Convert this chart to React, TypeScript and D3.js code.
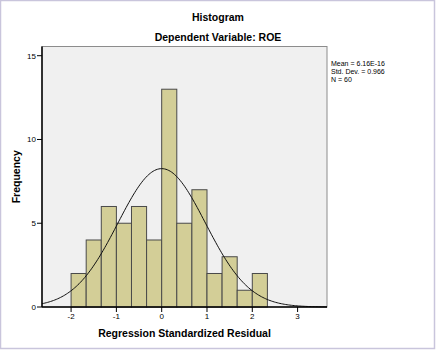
import React, { useEffect, useRef } from 'react';
import * as d3 from 'd3';

// bin lower edges (width 1/3) and counts
const binStarts = [-2, -5 / 3, -4 / 3, -1, -2 / 3, -1 / 3, 0, 1 / 3, 2 / 3, 1, 4 / 3, 5 / 3, 2];
const binCounts = [2, 4, 6, 5, 6, 4, 13, 5, 7, 2, 3, 1, 2];
const binWidth = 1 / 3;

const xTicks = [-2, -1, 0, 1, 2, 3];
const yTicks = [0, 5, 10, 15];

// stats shown in the legend box
const statMean = 6.16e-16;
const statSd = 0.966;
const statN = 60;
const legendLines = ['Mean = 6.16E-16', 'Std. Dev. = 0.966', 'N = 60'];

const App: React.FC = () => {
  const chartRef = useRef<SVGSVGElement | null>(null);

  useEffect(() => {
    renderChart();
  }, []);

  const renderChart = () => {
    const W = 438;
    const H = 351;
    const plot = { left: 42, right: 327, top: 46.5, bottom: 307 };
    const font = 'Liberation Sans, Arial, sans-serif';

    d3.select(chartRef.current).selectAll('*').remove();
    const svg = d3.select(chartRef.current)
      .attr('width', W)
      .attr('height', H)
      .style('font-family', font);

    // outer frame
    svg.append('rect')
      .attr('x', 0.5).attr('y', 0.5)
      .attr('width', W - 4).attr('height', H - 3)
      .attr('fill', '#fff')
      .attr('stroke', '#c9c5dc')
      .attr('stroke-width', 1.5);

    const x = d3.scaleLinear().domain([-2.642, 3.649]).range([plot.left, plot.right]);
    const y = d3.scaleLinear().domain([0, 15.55]).range([plot.bottom, plot.top]);

    // titles
    svg.append('text')
      .attr('x', 218).attr('y', 20.5)
      .attr('text-anchor', 'middle')
      .style('font-size', '10.5px').style('font-weight', 'bold')
      .text('Histogram');
    svg.append('text')
      .attr('x', 218).attr('y', 40.5)
      .attr('text-anchor', 'middle')
      .style('font-size', '10.5px').style('font-weight', 'bold')
      .text('Dependent Variable: ROE');

    // plot background
    svg.append('rect')
      .attr('x', plot.left).attr('y', plot.top)
      .attr('width', plot.right - plot.left).attr('height', plot.bottom - plot.top)
      .attr('fill', '#f0f0f0')
      .attr('stroke', '#8c8c8c')
      .attr('stroke-width', 1);

    // bars
    svg.append('g').selectAll('rect')
      .data(binStarts)
      .enter().append('rect')
      .attr('x', (d) => x(d))
      .attr('y', (d, i) => y(binCounts[i]))
      .attr('width', (d) => x(d + binWidth) - x(d))
      .attr('height', (d, i) => y(0) - y(binCounts[i]))
      .attr('fill', '#d3ce97')
      .attr('stroke', '#4a4a4a')
      .attr('stroke-width', 1);

    // fitted normal curve from legend stats
    const pts = d3.range(0, 201).map((i) => {
      const v = x.domain()[0] + (x.domain()[1] - x.domain()[0]) * i / 200;
      const z = (v - statMean) / statSd;
      const f = statN * binWidth * Math.exp(-0.5 * z * z) / (statSd * Math.sqrt(2 * Math.PI));
      return [x(v), y(f)] as [number, number];
    });
    svg.append('path')
      .attr('d', d3.line()(pts))
      .attr('fill', 'none')
      .attr('stroke', '#111')
      .attr('stroke-width', 1);

    // axes lines
    svg.append('line')
      .attr('x1', plot.left).attr('x2', plot.left)
      .attr('y1', plot.top).attr('y2', plot.bottom)
      .attr('stroke', '#000').attr('stroke-width', 1.5);
    svg.append('line')
      .attr('x1', plot.left).attr('x2', plot.right)
      .attr('y1', plot.bottom).attr('y2', plot.bottom)
      .attr('stroke', '#000').attr('stroke-width', 1.5);

    // y ticks
    const yAxis = svg.append('g');
    yTicks.forEach((t) => {
      yAxis.append('line')
        .attr('x1', plot.left - 5).attr('x2', plot.left)
        .attr('y1', y(t)).attr('y2', y(t))
        .attr('stroke', '#000');
      yAxis.append('text')
        .attr('x', plot.left - 6).attr('y', y(t))
        .attr('dy', '0.35em')
        .attr('text-anchor', 'end')
        .style('font-size', '8px')
        .text(t);
    });

    // x ticks
    const xAxis = svg.append('g');
    xTicks.forEach((t) => {
      xAxis.append('line')
        .attr('x1', x(t)).attr('x2', x(t))
        .attr('y1', plot.bottom).attr('y2', plot.bottom + 5)
        .attr('stroke', '#000');
      xAxis.append('text')
        .attr('x', x(t)).attr('y', plot.bottom + 12)
        .attr('text-anchor', 'middle')
        .style('font-size', '8px')
        .text(t);
    });

    // axis titles
    svg.append('text')
      .attr('x', (plot.left + plot.right) / 2).attr('y', 336.5)
      .attr('text-anchor', 'middle')
      .style('font-size', '10.5px').style('font-weight', 'bold')
      .text('Regression Standardized Residual');
    svg.append('text')
      .attr('transform', `translate(20,${(plot.top + plot.bottom) / 2}) rotate(-90)`)
      .attr('text-anchor', 'middle')
      .style('font-size', '10.5px').style('font-weight', 'bold')
      .text('Frequency');

    // legend
    legendLines.forEach((s, i) => {
      svg.append('text')
        .attr('x', 331).attr('y', 66 + i * 8)
        .style('font-size', '7px')
        .text(s);
    });
  };

  return (
    <div style={{ position: 'absolute', left: 0, top: 0 }}>
      <svg ref={chartRef}></svg>
    </div>
  );
};

export default App;
